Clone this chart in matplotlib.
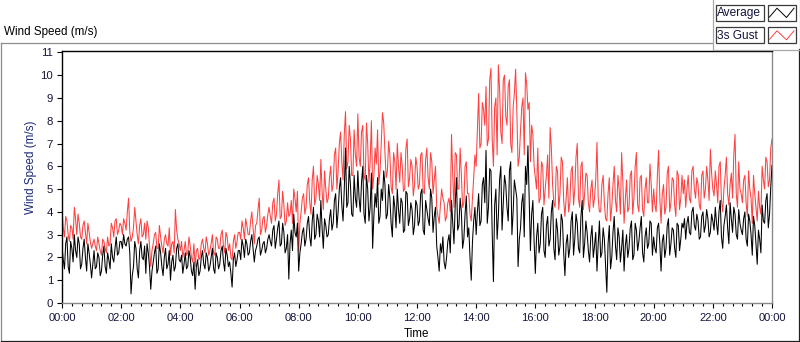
import numpy as np
import matplotlib
matplotlib.use("Agg")
import matplotlib.pyplot as plt
from matplotlib.ticker import MultipleLocator, FuncFormatter, FixedLocator

plt.rcParams['font.family'] = ['Liberation Sans', 'DejaVu Sans']

# ---- data: samples on the 5-minute marks (00:00 .. 24:00) ----
average = [
    2.5, 1.5, 2.9, 1.3, 2.4, 3.0, 2.0, 2.6, 1.7, 2.8, 1.4, 2.2,
    1.1, 2.3, 1.6, 2.0, 1.4, 2.5, 1.3, 1.9, 2.6, 1.8, 2.9, 2.2,
    2.7, 3.0, 2.5, 2.9, 0.4, 1.6, 2.4, 1.1, 2.7, 1.9, 1.3, 2.2,
    0.6, 1.8, 2.5, 1.5, 2.2, 1.2, 2.4, 1.7, 1.0, 2.1, 1.6, 2.6,
    1.8, 1.3, 2.2, 1.6, 2.0, 1.2, 0.6, 1.9, 1.4, 2.3, 1.5, 2.0,
    1.6, 2.4, 1.3, 2.0, 1.7, 2.5, 1.4, 2.1, 1.8, 0.7, 2.2, 1.9,
    2.3, 2.8, 2.0, 2.6, 2.2, 3.0, 1.8, 2.5, 2.9, 2.3, 2.7, 2.4,
    3.0, 2.5, 3.4, 2.8, 3.6, 2.6, 3.1, 2.4, 1.05, 3.2, 3.9, 2.9,
    1.4, 2.6, 3.3, 2.8, 3.8, 2.5, 4.2, 3.0, 3.6, 4.5, 2.4, 3.4,
    3.0, 4.1, 3.5, 4.8, 4.0, 5.5, 3.6, 6.8, 4.4, 5.2, 3.8, 4.6,
    5.8, 4.0, 6.0, 3.5, 5.0, 4.2, 2.4, 4.8, 5.5, 3.8, 4.5, 5.2,
    3.9, 4.6, 2.9, 4.2, 5.0, 3.5, 4.4, 3.2, 4.8, 3.7, 4.1, 3.4,
    4.3, 3.6, 5.0, 3.0, 4.1, 3.4, 4.6, 3.8, 2.5, 1.4, 2.2, 1.8,
    2.0, 3.0, 4.5, 2.6, 5.5, 3.4, 4.0, 2.8, 4.7, 3.3, 1.0, 3.6,
    3.0, 4.8, 3.6, 5.5, 6.7, 4.2, 5.8, 0.94, 5.0, 3.8, 6.0, 4.4,
    5.2, 3.6, 6.2, 4.0, 5.0, 1.6, 3.3, 4.8, 6.0, 6.9, 2.3, 4.5,
    1.3, 3.5, 2.6, 4.2, 2.0, 3.8, 2.8, 4.5, 1.9, 3.2, 2.5, 3.6,
    1.2, 3.0, 2.4, 4.0, 2.8, 3.5, 2.2, 4.5, 2.6, 3.1, 1.8, 3.4,
    2.5, 1.4, 3.6, 2.2, 2.8, 0.47, 3.4, 2.0, 3.8, 1.9, 2.9, 2.4,
    1.4, 3.0, 2.4, 3.6, 2.1, 3.2, 2.7, 3.8, 1.8, 3.3, 2.6, 3.5,
    2.9, 2.2, 3.5, 1.4, 3.0, 2.4, 3.7, 2.6, 3.2, 2.0, 3.4, 2.8,
    3.3, 2.8, 3.8, 3.0, 4.2, 3.2, 3.6, 2.9, 4.0, 3.4, 3.7, 3.1,
    3.6, 4.2, 3.0, 4.5, 2.4, 3.8, 3.3, 4.4, 3.1, 3.9, 2.8, 3.5,
    3.0, 4.0, 2.5, 3.6, 2.1, 3.4, 1.7, 2.8, 4.3, 3.5, 4.8, 3.9,
    6.05,
]
# samples 2.5 minutes after each 5-minute mark
average_between = [
    1.9, 2.6, 1.6, 2.7, 1.8, 2.3, 2.9, 1.5, 2.4, 2.0, 2.6, 1.7,
    1.7, 1.5, 2.2, 1.2, 2.1, 1.6, 2.2, 1.5, 2.0, 2.4, 2.1, 2.7,
    2.4, 2.6, 2.8, 2.2, 1.2, 2.7, 1.5, 2.3, 2.0, 2.5, 2.6, 1.6,
    1.4, 2.2, 1.3, 2.6, 1.6, 2.0, 1.5, 2.3, 1.8, 1.4, 2.4, 1.9,
    2.1, 1.7, 1.5, 2.3, 1.4, 1.8, 1.6, 1.2, 2.0, 1.7, 2.2, 1.4,
    2.0, 1.5, 2.2, 1.5, 2.3, 1.8, 2.4, 1.6, 1.3, 1.9, 1.6, 2.3,
    1.9, 2.5, 2.8, 2.1, 2.7, 2.4, 2.3, 2.8, 2.1, 2.6, 2.2, 2.8,
    2.7, 3.2, 2.4, 3.3, 2.5, 3.5, 2.2, 3.0, 2.6, 2.3, 3.1, 3.5,
    2.2, 3.1, 2.5, 3.5, 2.9, 3.6, 2.8, 3.9, 2.9, 3.3, 3.7, 2.9,
    3.7, 3.2, 4.5, 3.3, 5.0, 4.3, 5.0, 4.2, 6.0, 3.9, 5.6, 4.2,
    4.6, 5.3, 3.9, 5.6, 3.6, 5.7, 3.8, 4.2, 3.5, 5.0, 5.8, 3.7,
    5.2, 3.5, 4.7, 3.3, 4.1, 4.6, 3.1, 4.9, 3.4, 4.4, 3.0, 4.5,
    3.4, 4.8, 3.2, 4.5, 3.7, 5.0, 3.1, 4.2, 2.0, 2.6, 2.9, 1.5,
    2.7, 2.2, 3.5, 4.3, 3.2, 4.6, 2.4, 3.9, 2.9, 2.0, 2.7, 4.2,
    4.0, 3.4, 5.2, 4.4, 3.5, 5.9, 3.1, 4.3, 2.8, 5.4, 3.2, 5.6,
    4.2, 5.8, 3.0, 5.4, 4.6, 2.8, 4.4, 2.9, 5.2, 4.6, 3.9, 2.7,
    2.9, 2.2, 3.9, 2.3, 3.4, 2.5, 4.0, 2.4, 3.7, 2.1, 3.9, 2.2,
    2.6, 2.0, 3.6, 2.1, 3.9, 2.4, 3.8, 2.0, 3.6, 2.3, 2.9, 2.0,
    3.1, 2.6, 2.0, 3.3, 1.6, 2.6, 1.5, 3.1, 2.5, 3.3, 1.8, 3.2,
    2.5, 2.0, 3.3, 1.9, 3.5, 2.3, 3.3, 2.2, 2.9, 2.4, 3.6, 2.1,
    2.4, 3.3, 2.6, 2.7, 2.0, 3.4, 2.1, 3.3, 2.4, 3.5, 2.3, 3.5,
    3.7, 3.5, 3.1, 4.0, 3.4, 3.9, 2.8, 3.8, 3.1, 4.1, 2.9, 3.9,
    3.2, 3.5, 4.0, 2.9, 3.4, 4.3, 2.6, 3.7, 4.2, 3.0, 4.1, 3.2,
    3.7, 2.8, 3.9, 3.0, 3.8, 2.6, 3.2, 2.2, 3.6, 4.5, 3.3, 5.1,
]
gust_3s = [
    4.1, 2.9, 3.6, 2.7, 3.3, 4.2, 3.0, 3.5, 2.8, 3.6, 2.6, 3.1,
    2.4, 2.8, 2.3, 2.6, 2.1, 2.7, 2.2, 2.5, 3.5, 2.9, 3.7, 3.2,
    3.4, 3.7, 3.2, 4.6, 2.7, 3.3, 3.6, 2.6, 3.7, 3.0, 2.8, 3.3,
    1.6, 2.6, 3.1, 2.4, 2.9, 2.2, 3.0, 2.5, 2.1, 2.7, 4.1, 2.8,
    2.3, 2.0, 2.7, 2.2, 2.5, 1.8, 1.6, 2.4, 2.0, 2.8, 2.2, 2.6,
    2.3, 3.0, 2.1, 2.8, 2.4, 3.2, 2.2, 2.9, 2.6, 1.9, 3.0, 2.7,
    3.1, 3.6, 2.8, 3.4, 3.0, 4.0, 2.6, 3.5, 4.6, 3.2, 3.8, 3.4,
    4.2, 3.5, 4.6, 3.9, 5.4, 3.8, 4.3, 3.6, 3.8, 4.5, 5.0, 4.0,
    2.3, 4.0, 4.8, 4.2, 5.5, 3.9, 6.0, 4.6, 5.2, 6.3, 4.1, 5.0,
    4.6, 6.0, 5.2, 6.8, 5.8, 7.5, 5.4, 8.4, 6.2, 7.2, 5.6, 6.5,
    8.3, 6.0, 7.8, 5.4, 7.0, 6.2, 5.0, 6.8, 7.6, 5.8, 8.35, 6.6,
    5.8, 6.5, 4.8, 6.2, 7.0, 5.3, 6.0, 5.0, 7.2, 5.5, 6.0, 5.2,
    6.0, 5.2, 6.6, 4.8, 6.8, 5.0, 6.2, 5.4, 4.2, 3.5, 5.0, 4.4,
    3.8, 4.6, 7.4, 4.2, 6.5, 5.0, 5.6, 4.4, 6.2, 4.8, 3.6, 5.5,
    6.0, 9.2, 7.0, 8.5, 9.5, 7.2, 10.3, 6.0, 9.0, 10.45, 7.5, 9.8,
    8.2, 9.5, 7.0, 8.6, 10.26, 6.0, 7.6, 9.0, 10.1, 8.5, 6.2, 7.4,
    5.5, 6.8, 4.6, 6.0, 5.0, 6.5, 7.7, 5.2, 4.2, 5.8, 4.8, 6.2,
    3.8, 5.5, 4.4, 6.0, 5.0, 7.0, 4.2, 6.2, 4.8, 5.6, 4.0, 5.4,
    4.6, 7.05, 4.0, 5.2, 4.4, 3.6, 5.5, 4.2, 6.0, 4.0, 5.0, 6.6,
    3.5, 5.4, 4.2, 5.8, 4.6, 6.6, 4.0, 5.6, 3.8, 5.5, 4.4, 5.2,
    5.0, 4.0, 6.7, 3.5, 5.2, 4.2, 6.0, 4.4, 5.4, 3.8, 5.6, 4.6,
    4.8, 4.2, 5.6, 4.4, 6.0, 4.6, 5.2, 4.1, 5.8, 5.0, 5.4, 6.75,
    5.0, 5.8, 4.4, 6.2, 4.0, 5.6, 4.8, 5.2, 4.6, 7.4, 4.2, 5.0,
    4.4, 5.6, 3.8, 5.0, 3.5, 4.8, 3.6, 4.2, 6.0, 5.0, 6.2, 5.4,
    7.2,
]
gust_3s_between = [
    3.3, 3.8, 3.0, 3.4, 2.8, 3.7, 3.9, 2.9, 3.4, 3.1, 3.5, 2.7,
    2.6, 2.5, 2.9, 2.3, 2.8, 2.4, 2.9, 2.6, 3.3, 3.6, 3.0, 3.5,
    3.0, 3.5, 4.0, 3.1, 2.9, 4.2, 3.0, 3.4, 2.9, 3.5, 3.6, 2.5,
    2.3, 3.0, 2.4, 3.4, 2.5, 2.8, 2.6, 3.3, 2.6, 2.2, 3.2, 2.6,
    2.7, 2.3, 2.1, 2.9, 2.0, 2.6, 2.3, 1.9, 2.6, 2.4, 2.9, 2.1,
    2.6, 2.2, 2.9, 2.4, 3.0, 2.5, 3.1, 2.3, 2.0, 2.7, 2.4, 3.1,
    2.8, 3.3, 3.7, 3.0, 3.6, 3.3, 3.4, 4.1, 3.0, 3.7, 3.1, 3.9,
    3.8, 4.4, 3.6, 4.8, 3.7, 4.9, 3.4, 4.4, 3.9, 3.5, 4.6, 4.9,
    3.5, 4.6, 3.9, 5.2, 4.4, 5.4, 4.3, 5.6, 4.5, 4.9, 5.8, 4.4,
    5.5, 4.9, 6.5, 5.0, 7.0, 6.2, 7.4, 5.9, 7.8, 5.6, 7.6, 6.0,
    6.4, 7.5, 5.6, 7.9, 5.3, 8.0, 5.6, 6.1, 5.2, 7.0, 7.9, 5.5,
    7.1, 5.1, 6.6, 5.0, 6.0, 6.6, 4.9, 6.8, 5.1, 6.3, 4.7, 6.4,
    5.0, 6.5, 4.9, 6.3, 5.5, 6.6, 4.8, 6.0, 3.8, 4.3, 4.6, 3.6,
    4.4, 4.0, 5.6, 6.6, 5.0, 6.8, 4.2, 6.0, 4.8, 3.9, 4.6, 6.5,
    7.6, 6.8, 8.8, 7.8, 6.9, 9.8, 7.2, 8.6, 6.5, 9.4, 7.0, 10.0,
    7.8, 9.8, 6.6, 9.2, 8.4, 6.4, 8.6, 6.5, 9.6, 8.8, 7.8, 6.0,
    5.0, 4.4, 6.2, 4.3, 5.6, 4.6, 6.8, 4.4, 6.0, 4.1, 6.4, 4.5,
    4.6, 4.0, 5.8, 4.3, 6.4, 4.6, 6.0, 4.1, 5.7, 4.4, 5.0, 4.2,
    5.4, 4.6, 4.0, 5.6, 3.7, 4.8, 3.6, 5.2, 4.5, 5.6, 3.9, 5.3,
    4.5, 4.0, 5.6, 3.9, 6.0, 4.3, 5.5, 4.1, 5.0, 4.4, 6.1, 4.0,
    4.3, 5.6, 4.6, 4.8, 3.9, 5.7, 4.0, 5.5, 4.3, 5.8, 4.1, 5.6,
    5.4, 5.0, 4.6, 5.8, 5.0, 5.5, 4.3, 5.6, 4.6, 6.0, 4.5, 5.7,
    4.7, 5.2, 6.0, 4.5, 5.0, 6.4, 4.3, 5.7, 6.5, 4.8, 6.2, 4.8,
    5.4, 4.4, 5.8, 4.6, 5.6, 4.2, 4.9, 3.9, 5.4, 6.4, 5.1, 6.8,
]
time_minutes = np.arange(0, 24 * 60 + 0.1, 2.5)
series_names = ["Average", "3s Gust"]
series_colors = ["#000000", "#ff4040"]


def interleave(marks, between):
    out = []
    for i, v in enumerate(marks):
        out.append(v)
        if i < len(between):
            out.append(between[i])
    return np.array(out)


avg_full = interleave(average, average_between)
gust_full = interleave(gust_3s, gust_3s_between)
hours = time_minutes / 60.0

W, H = 800, 342
fig = plt.figure(figsize=(W / 100, H / 100), dpi=100)
fig.patch.set_facecolor("white")

# main plot area (pixel geometry)
L, R, T, B = 62, 772, 51, 303
ax = fig.add_axes([L / W, (H - B) / H, (R - L) / W, (B - T) / H])
ax.plot(hours, gust_full, color=series_colors[1], lw=0.75, zorder=2)
ax.plot(hours, avg_full, color=series_colors[0], lw=0.75, zorder=3)
ax.set_xlim(0, 24)
ax.set_ylim(0, 11.06)

for s in ("left", "top"):
    ax.spines[s].set_color("black")
    ax.spines[s].set_linewidth(1.0)
for s in ("right", "bottom"):
    ax.spines[s].set_color("#8a8a8a")
    ax.spines[s].set_linewidth(1.0)

ax.yaxis.set_major_locator(FixedLocator(list(range(0, 12))))
ax.xaxis.set_major_locator(MultipleLocator(2))
ax.xaxis.set_minor_locator(MultipleLocator(1 / 3))
ax.xaxis.set_major_formatter(FuncFormatter(lambda v, p: f"{int(round(v)) % 24:02d}:00"))
ax.tick_params(axis="y", direction="out", length=3.6, width=0.8, color="black",
               labelsize=8.2, labelcolor="#14143c", pad=2.8)
ax.tick_params(axis="x", which="major", direction="out", length=3.4, width=0.8,
               color="black", labelsize=8, labelcolor="#14143c", pad=3.5)
ax.tick_params(axis="x", which="minor", direction="out", length=1.9, width=0.8,
               color="black")

# overlay for frame (behind) and titles / legend (front), pixel coords
ov = fig.add_axes([0, 0, 1, 1], zorder=-1)
ov.set_xlim(0, W)
ov.set_ylim(H, 0)
ov.axis("off")

ov.plot([0.5, 712], [42.5, 42.5], color="#8c8c8c", lw=0.9)
ov.plot([0.5, 0.5], [42.5, 340.5], color="#8c8c8c", lw=0.9)
ov.plot([0.5, 798.5], [340.5, 340.5], color="#202020", lw=0.9)
ov.plot([798.5, 798.5], [49, 340.5], color="#202020", lw=0.9)

ov2 = fig.add_axes([0, 0, 1, 1], zorder=5)
ov2.set_xlim(0, W)
ov2.set_ylim(H, 0)
ov2.axis("off")

ov2.text(4, 31.5, "Wind Speed (m/s)", fontsize=8.4, color="black", ha="left", va="center")
ov2.text(31, 167, "Wind Speed (m/s)", fontsize=8.4, color="#1a2b78", ha="center",
         va="center", rotation=90)
ov2.text(416, 334, "Time", fontsize=8.4, color="black", ha="center", va="center")

# legend panel
ov2.plot([712.5, 712.5, 799.5, 799.5], [0, 49.5, 49.5, 0], color="#a8a8a8", lw=0.9)
rows = [(4.7, 21.0), (27.3, 43.3)]
for (y0, y1), name, col in zip(rows, series_names, series_colors):
    ov2.add_patch(plt.Rectangle((715.5, y0), 48, y1 - y0, fill=True, facecolor="white",
                                edgecolor="#3a3a3a", lw=0.9))
    ov2.text(717, (y0 + y1) / 2 + 0.5, name, fontsize=8.6, color="#14143c",
             ha="left", va="center")
    ov2.add_patch(plt.Rectangle((767.5, y0), 28.5, y1 - y0, fill=True, facecolor="white",
                                edgecolor="#3a3a3a", lw=0.9))
    ov2.plot([769.5, 777, 786.5, 794], [y1 - 4, y0 + 3.5, y1 - 3.5, y0 + 3.5],
             color=col, lw=0.7)

fig.savefig("out.png", dpi=100, facecolor="white")
